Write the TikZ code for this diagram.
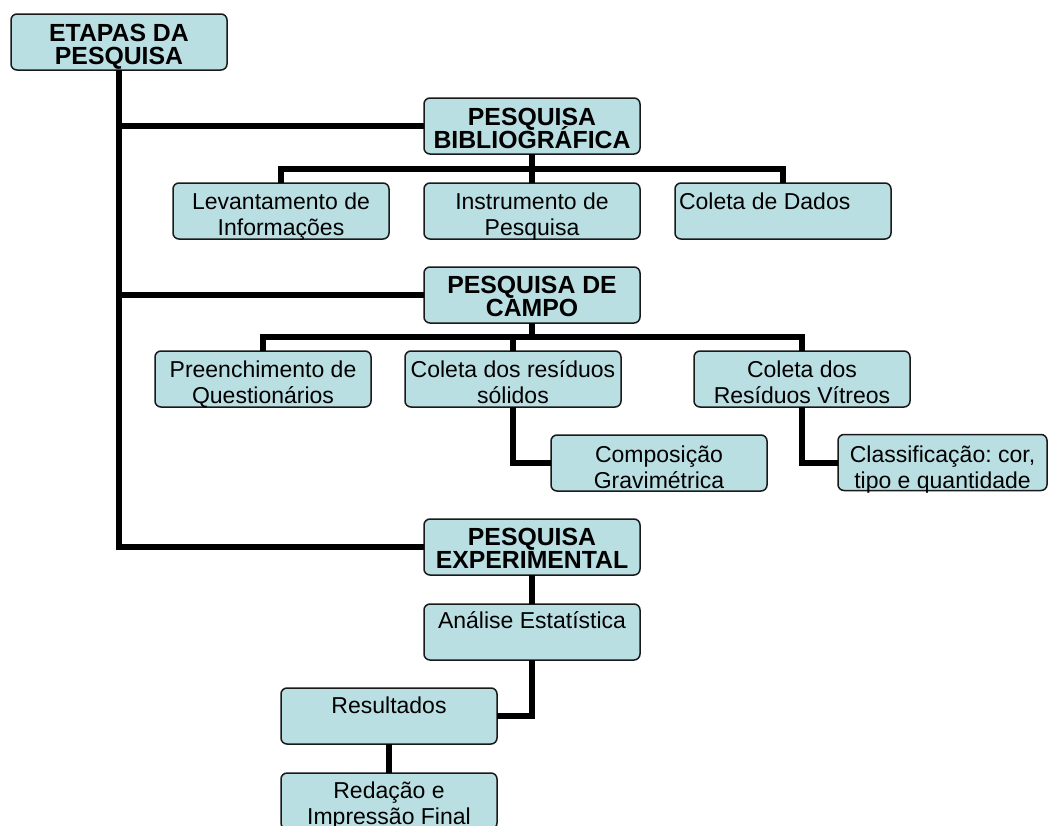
\documentclass[tikz,border=0pt]{standalone}
\usepackage{fontspec}
\setmainfont{Liberation Sans}
\frenchspacing
\definecolor{boxfill}{RGB}{186,223,227}
\definecolor{boxline}{RGB}{25,25,25}
\newcommand\ntext{\fontsize{23pt}{26.7pt}\selectfont}
\newcommand\htext{\fontsize{24.8pt}{23.3pt}\selectfont\bfseries}
% centred text box: width, first-baseline depth, text
\newcommand\bxt[3]{\vbox to 56pt{\hsize=#1\relax\parindent=0pt\parskip=0pt\lineskiplimit=-100pt\frenchspacing\centering\leavevmode\vrule height #2 depth 0pt width 0pt #3\par\vss}}
% left-aligned text box
\newcommand\bxl[3]{\vbox to 56pt{\hsize=#1\relax\parindent=0pt\parskip=0pt\lineskiplimit=-100pt\frenchspacing\leftskip=4pt\rightskip=0pt plus 1fil\parfillskip=0pt plus 1fil\leavevmode\vrule height #2 depth 0pt width 0pt #3\par\vss}}
\tikzset{
  box/.style={draw=boxline, line width=1.5pt, fill=boxfill, rounded corners=6pt, inner sep=0pt, outer sep=0pt, font=\ntext},
  hbox/.style={box, font=\htext},
  link/.style={draw=black, line width=6pt, line join=miter, line cap=butt}
}
\begin{document}
\begin{tikzpicture}[x=1pt,y=-1pt]
\useasboundingbox (0,0) rectangle (1049,825);
\fill[white] (0,0) rectangle (1049,825);

% level 0
\node[hbox] (root) at (119,42) {\bxt{216pt}{27.5pt}{ETAPAS DA\\PESQUISA}};

% main stages
\node[hbox] (bib) at (532,126) {\bxt{216pt}{27.5pt}{PESQUISA\\BIBLIOGRÁFICA}};
\node[hbox] (campo) at (532,295) {\bxt{216pt}{26pt}{PESQUISA DE\\CAMPO}};
\node[hbox] (exp) at (532,547) {\bxt{216pt}{26.5pt}{PESQUISA\\EXPERIMENTAL}};

% bibliographic sub-steps
\node[box] (lev) at (281,211) {\bxt{216pt}{26pt}{Levantamento de\\Informações}};
\node[box] (ins) at (532,211) {\bxt{216pt}{26pt}{Instrumento de\\Pesquisa}};
\node[box] (col) at (783,211) {\bxl{216pt}{26pt}{Coleta de Dados}};

% field sub-steps
\node[box] (pre) at (263,379) {\bxt{216pt}{26pt}{Preenchimento de\\Questionários}};
\node[box] (sol) at (513,379) {\bxt{216pt}{26pt}{Coleta dos resíduos\\sólidos}};
\node[box] (vit) at (802,379) {\bxt{216pt}{26pt}{Coleta dos\\Resíduos Vítreos}};
\node[box] (comp) at (659,463) {\bxt{216pt}{27pt}{Composição\\Gravimétrica}};
\node[box] (class) at (942.5,462.5) {\bxt{209pt}{27.5pt}{Classificação: cor,\\tipo e quantidade}};

% experimental chain
\node[box] (ana) at (532,632) {\bxt{216pt}{24.5pt}{Análise Estatística}};
\node[box] (res) at (389,716) {\bxt{216pt}{25pt}{Resultados}};
\node[box] (red) at (389,801) {\bxt{216pt}{25pt}{Redação e\\Impressão Final}};

% trunk
\draw[link] (root.south) -- (root.south |- exp.west) -- (exp.west);
\draw[link] (root.south |- bib.west) -- (bib.west);
\draw[link] (root.south |- campo.west) -- (campo.west);

% bibliographic bus
\coordinate (bbus) at (532,169);
\draw[link] (bib.south) -- (bbus);
\draw[link] (lev.north) -- (lev.north |- bbus) -- (col.north |- bbus) -- (col.north);
\draw[link] (ins.north) -- (ins.north |- bbus);

% field bus
\coordinate (cbus) at (532,337);
\draw[link] (campo.south) -- (cbus);
\draw[link] (pre.north) -- (pre.north |- cbus) -- (vit.north |- cbus) -- (vit.north);
\draw[link] (sol.north) -- (sol.north |- cbus);

% elbows
\draw[link] (sol.south) |- (comp.west);
\draw[link] (vit.south) |- (class.west);

% experimental chain links
\draw[link] (exp.south) -- (ana.north);
\draw[link] (ana.south) |- (res.east);
\draw[link] (res.south) -- (red.north);
\end{tikzpicture}
\end{document}
